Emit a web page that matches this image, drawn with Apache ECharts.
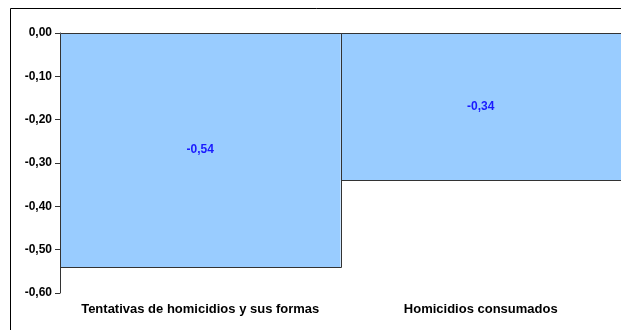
<!DOCTYPE html>
<html>
<head>
<meta charset="utf-8">
<script src="https://cdn.jsdelivr.net/npm/echarts@6/dist/echarts.min.js"></script>
<style>
html,body{margin:0;padding:0;background:#fff;}
#c{width:621px;height:330px;}
</style>
</head>
<body>
<div id="c"></div>
<script>
var categories = ['Tentativas de homicidios y sus formas', 'Homicidios consumados'];
var values = [-0.54, -0.34];
var yTicks = {min: -0.6, max: 0, interval: 0.1};

var fmt = function (v) { return v.toFixed(2).replace('.', ','); };
var font = 'Liberation Sans, Arial, sans-serif';

var chart = echarts.init(document.getElementById('c'), null, {renderer: 'canvas'});
chart.setOption({
  animation: false,
  backgroundColor: '#fff',
  graphic: [{
    type: 'rect',
    shape: {x: 10.5, y: 8.5, width: 700, height: 400},
    style: {fill: 'none', stroke: '#000', lineWidth: 1},
    silent: true, z: 0
  }],
  grid: {left: 60, right: -1, top: 33, bottom: 37, containLabel: false},
  xAxis: [{
    type: 'category', data: categories, position: 'top',
    axisLine: {show: true, lineStyle: {color: '#000', width: 1}},
    axisTick: {show: false}, axisLabel: {show: false}, splitLine: {show: false}
  }, {
    type: 'category', data: categories, position: 'bottom',
    axisLine: {show: false}, axisTick: {show: false}, splitLine: {show: false},
    axisLabel: {show: true, interval: 0, color: '#000', fontFamily: font, fontWeight: 'bold', fontSize: 13, margin: 10}
  }],
  yAxis: {
    type: 'value', min: yTicks.min, max: yTicks.max, interval: yTicks.interval,
    axisLine: {show: true, lineStyle: {color: '#333', width: 1}},
    axisTick: {show: true, length: 5, lineStyle: {color: '#333'}},
    splitLine: {show: false},
    axisLabel: {formatter: fmt, color: '#000', fontFamily: font, fontWeight: 'bold', fontSize: 12, margin: 8}
  },
  series: [{
    type: 'bar', data: values, xAxisIndex: 0,
    barWidth: '100%', barCategoryGap: '0%',
    itemStyle: {color: '#99CCFF', borderWidth: 0},
    label: {show: true, position: 'inside', formatter: function (p) { return fmt(p.value); },
      color: '#1a1aff', fontFamily: font, fontWeight: 'bold', fontSize: 12},
    z: 2
  }, {
    type: 'custom', xAxisIndex: 0, z: 3, silent: true,
    data: values.map(function (v, i) { return [i, v]; }),
    renderItem: function (params, api) {
      var top = api.coord([api.value(0), 0]);
      var bot = api.coord([api.value(0), api.value(1)]);
      var w = api.size([1, 0])[0];
      var l = Math.round(top[0] - w / 2) + 0.5;
      var r = Math.round(top[0] + w / 2) + 0.5;
      var t = Math.round(top[1]) + 0.5;
      var b = Math.round(bot[1]) + 0.5;
      return {type: 'rect', shape: {x: l, y: t, width: r - l, height: b - t},
        style: {fill: 'none', stroke: '#333', lineWidth: 1}};
    }
  }]
});
</script>
</body>
</html>
